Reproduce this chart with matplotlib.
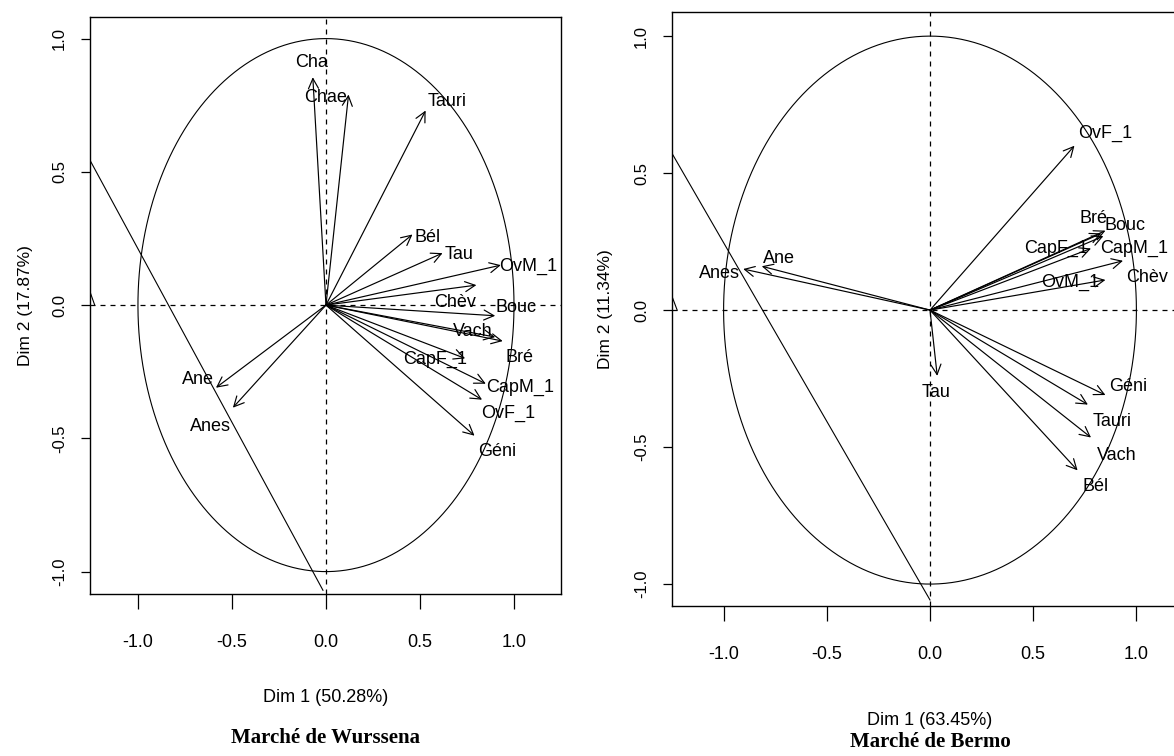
import numpy as np
import matplotlib
matplotlib.use("Agg")
import matplotlib.pyplot as plt
from matplotlib.patches import FancyArrowPatch

# Marché de Wurssena (cercle des corrélations)
noms_w = ["Cha", "Chae", "Tauri", "Bél", "Tau", "OvM_1", "Chèv", "Bouc", "Vach",
          "Bré", "CapF_1", "CapM_1", "OvF_1", "Géni", "Ane", "Anes"]
dim1_w = [-0.07, 0.12, 0.53, 0.46, 0.62, 0.93, 0.80, 0.90, 0.90,
          0.94, 0.74, 0.85, 0.83, 0.79, -0.585, -0.495]
dim2_w = [0.855, 0.79, 0.73, 0.265, 0.195, 0.15, 0.075, -0.04, -0.12,
          -0.135, -0.20, -0.295, -0.355, -0.49, -0.31, -0.385]
lab_x_w = [-0.075, 0.0, 0.645, 0.54, 0.71, 1.075, 0.685, 1.01, 0.78,
           1.03, 0.58, 1.03, 0.97, 0.91, -0.68, -0.615]
lab_y_w = [0.91, 0.78, 0.765, 0.255, 0.19, 0.145, 0.01, -0.01, -0.10,
           -0.195, -0.205, -0.31, -0.405, -0.55, -0.28, -0.455]
ligne_w = ([-1.26, -0.016], [0.55, -1.07])

# Marché de Bermo
noms_b = ["OvF_1", "Bré", "Bouc", "CapF_1", "CapM_1", "Chèv", "OvM_1", "Ane",
          "Anes", "Tau", "Géni", "Tauri", "Vach", "Bél"]
dim1_b = [0.70, 0.83, 0.85, 0.78, 0.84, 0.935, 0.85, -0.815,
          -0.905, 0.035, 0.85, 0.765, 0.78, 0.715]
dim2_b = [0.60, 0.28, 0.29, 0.225, 0.27, 0.18, 0.11, 0.16,
          0.15, -0.24, -0.31, -0.345, -0.465, -0.585]
lab_x_b = [0.85, 0.79, 0.945, 0.61, 0.99, 1.05, 0.68, -0.73,
           -1.02, 0.03, 0.96, 0.88, 0.905, 0.80]
lab_y_b = [0.645, 0.335, 0.31, 0.225, 0.225, 0.12, 0.10, 0.19,
           0.135, -0.30, -0.28, -0.405, -0.53, -0.645]
ligne_b = ([-1.26, 0.0], [0.585, -1.058])

ticks = [-1.0, -0.5, 0.0, 0.5, 1.0]
tick_txt = ["-1.0", "-0.5", "0.0", "0.5", "1.0"]

SANS = ["Liberation Sans", "DejaVu Sans"]

W, H = 1174, 756
fig = plt.figure(figsize=(W / 100, H / 100), dpi=100)


def panneau(ax, noms, d1, d2, lx, ly, ligne, xlim, ylim, xlab, titre, xlab_y, titre_y):
    ax.set_xlim(xlim)
    ax.set_ylim(ylim)
    t = np.linspace(0, 2 * np.pi, 400)
    ax.plot(np.cos(t), np.sin(t), color="black", lw=0.8)
    ax.axhline(0, color="black", lw=0.9, ls=(0, (4, 4)))
    ax.axvline(0, color="black", lw=0.9, ls=(0, (4, 4)))
    ax.plot(ligne[0], ligne[1], color="black", lw=0.8)
    ax.plot([xlim[0], xlim[0] + 0.025], [0.05, 0.0], color="black", lw=0.8)
    for nom, x, y, tx, ty in zip(noms, d1, d2, lx, ly):
        fl = FancyArrowPatch((0, 0), (x, y), arrowstyle="->,head_length=0.6,head_width=0.3",
                             mutation_scale=12, color="black", lw=0.85,
                             shrinkA=0, shrinkB=0)
        ax.add_patch(fl)
        ax.text(tx, ty, nom, fontsize=13, family=SANS, ha="center", va="center")
    ax.set_xticks(ticks)
    ax.set_xticklabels(tick_txt, family=SANS, fontsize=13)
    ax.set_yticks(ticks)
    ax.set_yticklabels(tick_txt, family=SANS, fontsize=12, rotation=90, va="center")
    ax.tick_params(axis="x", length=11, width=0.9, pad=18)
    ax.tick_params(axis="y", length=6.5, width=0.9, pad=10)
    for s in ax.spines.values():
        s.set_linewidth(1.0)
    ax.text(0.5, xlab_y, xlab, transform=ax.transAxes, ha="center", va="center",
            fontsize=13, family=SANS)
    ax.text(0.5, titre_y, titre, transform=ax.transAxes, ha="center", va="center",
            fontsize=15, family="Liberation Serif", fontweight="bold")


ax1 = fig.add_axes([90 / W, 1 - 594 / H, 471 / W, 577 / H])
panneau(ax1, noms_w, dim1_w, dim2_w, lab_x_w, lab_y_w, ligne_w,
        (-1.255, 1.25), (-1.084, 1.081),
        "Dim 1 (50.28%)", "Marché de Wurssena", -0.180, -0.250)
ax1.text(-0.136, 0.5, "Dim 2 (17.87%)", transform=ax1.transAxes, rotation=90,
         ha="center", va="center", fontsize=12.5, family=SANS)

ax2 = fig.add_axes([672 / W, 1 - 606 / H, 516 / W, 594 / H])
panneau(ax2, noms_b, dim1_b, dim2_b, lab_x_b, lab_y_b, ligne_b,
        (-1.25, 1.25), (-1.08, 1.088),
        "Dim 1 (63.45%)", "Marché de Bermo", -0.192, -0.229)
ax2.text(-0.128, 0.5, "Dim 2 (11.34%)", transform=ax2.transAxes, rotation=90,
         ha="center", va="center", fontsize=12.5, family=SANS)

fig.savefig("out.png", dpi=100)
